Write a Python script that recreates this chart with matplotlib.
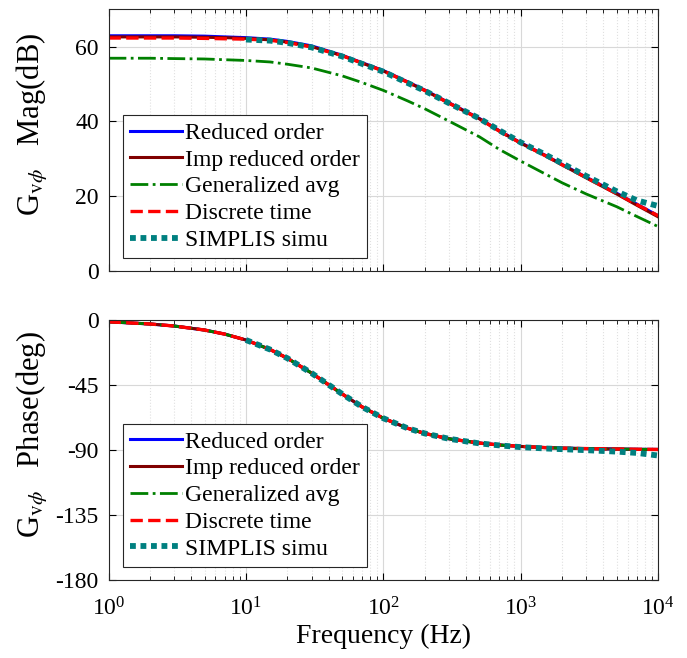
import numpy as np
import matplotlib
matplotlib.use('Agg')
import matplotlib.pyplot as plt
from matplotlib.ticker import LogLocator, NullFormatter, FixedLocator

plt.rcParams['font.family'] = ['Liberation Serif', 'DejaVu Serif']
plt.rcParams['mathtext.fontset'] = 'stix'
plt.rcParams['axes.unicode_minus'] = False

# frequency points (Hz)
freq = [1, 2, 3, 5, 7, 10, 15, 20, 30, 50, 70, 100, 150, 200, 300, 500,
        700, 1000, 1500, 2000, 3000, 5000, 7000, 10000]
freq_simplis = freq[5:]

# magnitude (dB)
mag_reduced = [62.9, 62.9, 62.9, 62.8, 62.6, 62.4, 62.0, 61.4, 60.2, 57.7, 55.7, 53.6,
               50.6, 48.4, 45.0, 40.8, 37.5, 34.3, 31.0, 28.5, 25.1, 20.8, 17.9, 14.8]
mag_imp = [62.6, 62.6, 62.6, 62.5, 62.4, 62.2, 61.8, 61.2, 60.0, 57.6, 55.6, 53.5,
           50.5, 48.3, 44.9, 40.7, 37.4, 34.2, 30.9, 28.4, 24.9, 20.6, 17.6, 14.5]
mag_genavg = [56.9, 56.9, 56.8, 56.7, 56.5, 56.3, 55.9, 55.3, 54.3, 52.2, 50.4, 48.3,
              45.5, 43.4, 40.1, 35.9, 32.5, 29.4, 26.0, 23.6, 20.6, 17.2, 14.6, 11.9]
mag_discrete = [62.3, 62.3, 62.3, 62.2, 62.1, 62.0, 61.7, 61.1, 59.9, 57.6, 55.6, 53.5,
                50.5, 48.3, 44.9, 40.7, 37.4, 34.2, 30.9, 28.4, 25.0, 20.7, 17.8, 14.8]
mag_simplis = [61.9, 61.6, 61.0, 59.8, 57.4, 55.4, 53.3, 50.3, 48.2, 44.9, 40.8,
               37.6, 34.4, 31.2, 28.8, 25.4, 21.3, 18.9, 17.4]

# phase (deg)
ph_model = [-1.4, -2.9, -4.3, -7.1, -9.9, -14.0, -20.6, -26.6, -36.9, -51.3, -60.3, -68.2,
            -75.1, -78.7, -82.4, -85.4, -86.7, -87.7, -88.5, -88.9, -89.2, -89.5, -89.7, -89.8]
ph_simplis = [-14.0, -20.6, -26.6, -36.9, -51.3, -60.3, -68.2, -75.1, -78.7, -82.4,
              -85.6, -87.0, -88.2, -89.1, -89.6, -90.3, -91.3, -92.2, -94.0]

labels = ['Reduced order', 'Imp reduced order', 'Generalized avg',
          'Discrete time', 'SIMPLIS simu']


def style_axes(ax):
    ax.set_xscale('log')
    ax.set_xlim(1, 1e4)
    ax.xaxis.set_major_locator(LogLocator(base=10, numticks=10))
    ax.xaxis.set_minor_locator(LogLocator(base=10, subs=np.arange(2, 10), numticks=10))
    ax.xaxis.set_minor_formatter(NullFormatter())
    ax.grid(True, which='major', color='#d8d8d8', linewidth=0.8)
    ax.grid(True, which='minor', color='#e0e0e0', linestyle=':', linewidth=0.8)
    ax.tick_params(which='both', direction='in', top=True, right=True, labelsize=17)
    ax.tick_params(which='major', length=5)
    ax.tick_params(which='minor', length=3)
    ax.tick_params(axis='y', pad=7)
    ax.tick_params(axis='x', pad=13)
    for s in ax.spines.values():
        s.set_color('#262626')
        s.set_linewidth(0.8)


def draw(ax, series, simplis_x, simplis_y):
    cols = ['#0000ff', '#800000', '#008000', '#ff0000']
    styles = ['-', '-', '-.', '--']
    widths = [2.2, 2.2, 2.0, 2.4]
    for y, c, ls, lw, lab in zip(series, cols, styles, widths, labels):
        ax.plot(freq, y, color=c, linestyle=ls, linewidth=lw, label=lab)
    ax.plot(simplis_x, simplis_y, color='#008080', linestyle=(0, (1, 0.8)),
            linewidth=4.2, label=labels[4])
    leg = ax.legend(loc='lower left', bbox_to_anchor=(0.026, 0.05), fontsize=17,
                    handlelength=2.2, handletextpad=0.15, borderpad=0.3,
                    borderaxespad=0, labelspacing=0.22, fancybox=False, framealpha=1)
    leg.get_frame().set_edgecolor('#262626')
    leg.get_frame().set_linewidth(0.8)


fig = plt.figure(figsize=(6.87, 6.58), dpi=100)
ax1 = fig.add_axes([0.158, 0.588, 0.800, 0.398])
ax2 = fig.add_axes([0.158, 0.119, 0.800, 0.395])

draw(ax1, [mag_reduced, mag_imp, mag_genavg, mag_discrete], freq_simplis, mag_simplis)
style_axes(ax1)
ax1.set_ylim(0, 70)
ax1.yaxis.set_major_locator(FixedLocator([0, 20, 40, 60]))
ax1.xaxis.set_major_formatter(NullFormatter())
ax1.set_ylabel(r'G$_{\mathrm{v}\phi}$   Mag(dB)', fontsize=22)
ax1.yaxis.set_label_coords(-0.107, 0.56)

draw(ax2, [ph_model, ph_model, ph_model, ph_model], freq_simplis, ph_simplis)
style_axes(ax2)
ax2.set_ylim(-180, 0)
ax2.yaxis.set_major_locator(FixedLocator([-180, -135, -90, -45, 0]))
ax2.set_ylabel(r'G$_{\mathrm{v}\phi}$   Phase(deg)', fontsize=22)
ax2.yaxis.set_label_coords(-0.107, 0.56)
ax2.set_xlabel('Frequency (Hz)', fontsize=20)
ax2.xaxis.set_label_coords(0.5, -0.17)

fig.savefig('out.png', dpi=100)
